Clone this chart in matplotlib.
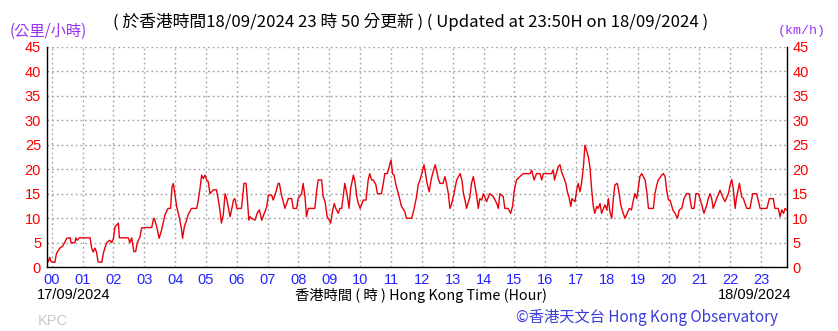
import numpy as np
import matplotlib
matplotlib.use("Agg")
import matplotlib.pyplot as plt

# hours after 00:00 on 17/09/2024 (negative = previous day 23:50) and 10-min mean wind speed (km/h)
hours = [-0.17, -0.12, -0.07, -0.02, 0.10, 0.15, 0.26, 0.35, 0.43, 0.48, 0.60, 0.62, 0.75, 0.78, 0.82, 0.90,
         1.24, 1.29, 1.34, 1.40, 1.45, 1.50, 1.62, 1.67, 1.72, 1.78, 1.88, 1.94,
         2.00, 2.05, 2.10, 2.16, 2.19, 2.48, 2.53, 2.59, 2.66, 2.72, 2.77, 2.86, 2.91,
         3.02, 3.24, 3.29, 3.32, 3.40, 3.48, 3.56, 3.62, 3.67, 3.77, 3.85, 3.90, 3.94, 3.99,
         4.05, 4.13, 4.21, 4.24, 4.30, 4.37, 4.42, 4.53, 4.70, 4.75, 4.80, 4.86, 4.91, 4.97,
         5.02, 5.07, 5.13, 5.24, 5.34, 5.40, 5.45, 5.50, 5.56, 5.62, 5.67, 5.72, 5.78, 5.83, 5.89, 5.94,
         6.00, 6.15, 6.19, 6.23, 6.30, 6.34, 6.39, 6.43, 6.48, 6.59, 6.66, 6.73, 6.81, 6.89, 6.97,
         7.02, 7.13, 7.18, 7.27, 7.34, 7.38, 7.45, 7.56, 7.67, 7.78, 7.83, 7.94, 7.99,
         8.10, 8.15, 8.21, 8.26, 8.32, 8.53, 8.59, 8.64, 8.75, 8.80, 8.86, 8.93,
         9.00, 9.04, 9.11, 9.16, 9.21, 9.29, 9.34, 9.40, 9.45, 9.50, 9.58, 9.64, 9.69, 9.78, 9.83, 9.89, 9.94,
         10.00, 10.10, 10.19, 10.26, 10.31, 10.37, 10.43, 10.51, 10.56, 10.69, 10.75, 10.80, 10.88, 10.94,
         11.00, 11.05, 11.10, 11.16, 11.24, 11.34, 11.45, 11.50, 11.67, 11.74, 11.83, 11.88, 11.94,
         12.00, 12.07, 12.12, 12.17, 12.24, 12.30, 12.35, 12.43, 12.48, 12.53, 12.59, 12.69, 12.75, 12.80,
         12.86, 12.91, 12.97,
         13.04, 13.13, 13.24, 13.30, 13.35, 13.40, 13.45, 13.56, 13.61, 13.67, 13.72, 13.78, 13.83, 13.88, 13.94,
         14.00, 14.10, 14.20, 14.32, 14.43, 14.48, 14.53, 14.64, 14.69, 14.80, 14.88, 14.94,
         15.00, 15.07, 15.18, 15.29, 15.51, 15.56, 15.64, 15.72, 15.83, 15.89, 15.94,
         16.21, 16.25, 16.28, 16.30, 16.36, 16.42, 16.48, 16.53, 16.59, 16.67, 16.72, 16.77, 16.83, 16.87,
         16.91, 16.97,
         17.02, 17.07, 17.13, 17.18, 17.24, 17.29, 17.34, 17.40, 17.45, 17.51, 17.56, 17.61, 17.67, 17.72,
         17.78, 17.83, 17.89, 17.94,
         18.00, 18.05, 18.10, 18.16, 18.21, 18.26, 18.34, 18.40, 18.45, 18.53, 18.59, 18.66, 18.73, 18.80,
         18.86, 18.91, 18.97,
         19.02, 19.07, 19.13, 19.24, 19.29, 19.35, 19.51, 19.56, 19.62, 19.67, 19.78, 19.83, 19.89, 19.94,
         20.00, 20.05, 20.14, 20.21, 20.29, 20.35, 20.43, 20.50, 20.59, 20.67, 20.75, 20.83, 20.89, 20.97,
         21.02, 21.08, 21.15, 21.24, 21.29, 21.35, 21.40, 21.45, 21.56, 21.67, 21.78, 21.83, 21.94,
         22.00, 22.05, 22.10, 22.16, 22.21, 22.30, 22.37, 22.43, 22.48, 22.54, 22.64, 22.73, 22.86, 22.97,
         23.19, 23.27, 23.40, 23.45, 23.56, 23.62, 23.67, 23.73, 23.78, 23.83]
speed = [1.8, 1.1, 2.0, 1.1, 1.0, 2.8, 3.9, 4.3, 5.2, 5.9, 6.0, 5.0, 5.0, 6.0, 5.5, 6.0,
         6.0, 4.0, 3.1, 3.9, 3.1, 1.1, 1.0, 2.8, 3.9, 5.0, 5.5, 5.0,
         5.9, 8.3, 8.6, 9.0, 6.0, 6.0, 5.0, 6.0, 3.2, 3.2, 5.0, 6.2, 8.0,
         8.1, 8.1, 9.6, 10.0, 8.3, 5.9, 7.6, 9.3, 10.7, 12.0, 12.0, 16.4, 17.1, 15.0,
         12.3, 10.3, 7.6, 5.9, 8.3, 9.6, 10.7, 12.0, 12.0, 13.7, 15.8, 18.8, 18.1, 18.8,
         17.8, 17.5, 15.0, 15.8, 15.8, 13.7, 11.7, 9.0, 10.7, 15.0, 14.0, 12.3, 10.3, 11.7, 13.7, 14.0,
         12.0, 12.0, 14.4, 17.1, 17.1, 14.0, 9.6, 10.3, 10.0, 9.6, 11.0, 11.7, 9.6, 11.0, 12.3,
         14.7, 14.7, 13.7, 15.4, 17.1, 17.1, 14.7, 12.0, 14.0, 14.0, 12.0, 12.0, 14.0,
         15.0, 17.1, 14.4, 10.3, 12.0, 12.0, 15.7, 17.8, 17.8, 14.4, 13.4, 10.3,
         9.6, 9.0, 11.7, 13.0, 12.0, 11.0, 12.0, 12.0, 14.4, 17.1, 14.7, 12.0, 16.0, 18.8, 17.5, 14.4, 13.0,
         12.0, 13.7, 13.7, 17.8, 19.1, 17.8, 17.8, 16.8, 15.0, 15.0, 17.1, 19.1, 19.1, 20.5,
         21.9, 19.1, 18.8, 16.8, 15.0, 12.4, 11.3, 10.0, 10.0, 11.7, 14.4, 16.8, 17.8,
         19.1, 20.9, 19.1, 17.1, 15.4, 17.8, 19.1, 20.9, 19.8, 18.1, 17.1, 17.1, 18.5, 17.1,
         15.0, 12.0, 13.0,
         15.0, 17.8, 19.1, 17.8, 15.0, 13.7, 12.0, 14.4, 17.1, 18.5, 16.8, 14.4, 12.0, 14.0, 13.7,
         15.0, 13.4, 15.0, 14.4, 13.0, 12.0, 15.0, 14.4, 12.0, 12.0, 11.0, 12.4,
         15.7, 17.8, 18.5, 19.1, 19.1, 19.8, 17.8, 19.1, 19.1, 17.8, 19.1,
         19.1, 19.8, 19.1, 17.8, 19.1, 20.5, 20.9, 19.5, 18.5, 17.1, 15.4, 14.4, 12.4, 14.0,
         13.7, 13.4,
         15.7, 17.1, 15.4, 17.1, 20.5, 24.9, 23.9, 22.5, 20.5, 15.7, 12.4, 11.0, 12.4, 12.0,
         13.0, 11.0, 12.0, 12.7,
         11.7, 14.0, 11.3, 10.0, 14.0, 16.8, 17.1, 15.0, 12.7, 11.0, 10.0, 11.0, 12.0, 11.7,
         13.7, 15.0, 14.0,
         16.1, 18.5, 19.1, 17.8, 15.7, 12.0, 12.0, 15.0, 16.8, 17.8, 18.8, 19.1, 18.5, 15.7,
         13.7, 13.7, 11.7, 11.0, 10.0, 11.7, 12.0, 14.0, 15.0, 15.0, 12.0, 12.0, 15.0, 15.0,
         14.0, 12.7, 11.0, 12.7, 14.0, 15.0, 14.0, 12.0, 14.0, 15.7, 14.0, 13.4, 15.0,
         16.8, 17.9, 16.1, 12.0, 14.4, 17.1, 14.4, 14.0, 13.0, 12.0, 12.0, 15.0, 15.0, 12.0,
         12.0, 14.0, 14.0, 12.0, 12.0, 10.3, 11.7, 11.0, 12.0, 11.7]

hour_labels = ["%02d" % h for h in range(24)]
y_ticks = list(range(0, 50, 5))

CJK = ["Noto Sans CJK TC", "DejaVu Sans"]
NARROW = ["Liberation Sans Narrow", "Liberation Sans", "DejaVu Sans"]
PURPLE = "#9a32f0"
BLUE = "#2323ff"
RED = "#ff0000"

fig = plt.figure(figsize=(8.38, 3.31), dpi=100)
ax = fig.add_axes([0.0557, 0.1927, 0.8831, 0.6663])

ax.plot(hours, speed, color="#e8000b", lw=1.0)

ax.set_xlim(-1 / 6, 23 + 5 / 6)
ax.set_ylim(0, 45)
ax.set_xticks(range(24))
ax.set_xticklabels(hour_labels, color=BLUE, family=NARROW, fontsize=10.5)
ax.set_yticks(y_ticks)
ax.set_yticklabels([str(v) for v in y_ticks], color=RED, family=NARROW, fontsize=10.5)
ax.tick_params(axis="both", length=0, pad=4)
ax.tick_params(axis="y", labelright=True)

ax.grid(True, color="#a0a0a0", linestyle=(0, (1.2, 2.2)), lw=1.0)
for s in ["left", "bottom", "right"]:
    ax.spines[s].set_color("black")
    ax.spines[s].set_linewidth(1.0)
ax.spines["top"].set_visible(False)

fig.text(0.135, 0.933, "( 於香港時間18/09/2024 23 時 50 分更新 ) ( Updated at 23:50H on 18/09/2024 )",
         family=CJK, fontsize=12.1, color="black", ha="left", va="center")
fig.text(0.012, 0.905, "(公里/小時)", family=CJK, fontsize=11, color=PURPLE, ha="left", va="center")
fig.text(0.928, 0.905, "(km/h)", family=["Liberation Mono", "DejaVu Sans Mono"], fontsize=9.5,
         color=PURPLE, ha="left", va="center")

fig.text(0.044, 0.108, "17/09/2024", family=NARROW, fontsize=10.5, color="black", ha="left", va="center")
fig.text(0.502, 0.108, "香港時間 ( 時 ) Hong Kong Time (Hour)", family=CJK, fontsize=10.3,
         color="black", ha="center", va="center")
fig.text(0.944, 0.108, "18/09/2024", family=NARROW, fontsize=10.5, color="black", ha="right", va="center")
fig.text(0.045, 0.030, "KPC", family=NARROW, fontsize=10.5, color="#c8c8c8", ha="left", va="center")
fig.text(0.928, 0.040, "©香港天文台 Hong Kong Observatory", family=CJK, fontsize=11,
         color="#3b3bd8", ha="right", va="center")

fig.savefig("out.png", dpi=100)
